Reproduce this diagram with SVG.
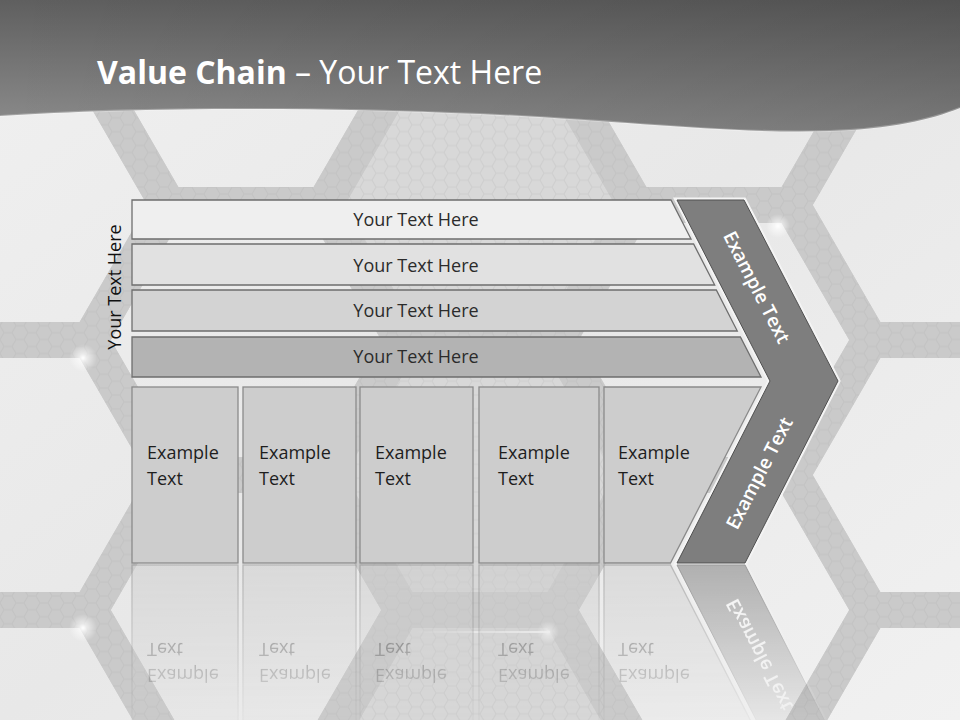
<svg xmlns="http://www.w3.org/2000/svg" width="960" height="720" viewBox="0 0 960 720">
<defs>
<style>
.band{fill:none;stroke:#cacaca;stroke-width:36;stroke-linejoin:miter}
.bandtex{fill:none;stroke:url(#hexpat);stroke-width:36;stroke-linejoin:miter}
.bar{stroke:#6e6e6e;stroke-width:1.3}
.box{fill:#cdcdcd;stroke:#8a8a8a;stroke-width:1.3}
.bt{font-family:"Open Sans","Liberation Sans",sans-serif;font-size:18px;fill:#2b2b2b;text-anchor:middle}
.ex{font-family:"Open Sans","Liberation Sans",sans-serif;font-size:18px;fill:#1e1e1e}
.ct{font-family:"Open Sans","Liberation Sans",sans-serif;font-size:19px;font-weight:600;fill:#ffffff;text-anchor:middle}
</style>
<pattern id="hexpat" patternUnits="userSpaceOnUse" width="24" height="13.86">
<rect width="24" height="13.86" fill="#cacaca"/>
<path d="M0,6.93 L4,0 L12,0 L16,6.93 L12,13.86 L4,13.86 Z M16,6.93 L24,6.93" fill="none" stroke="#c1c1c1" stroke-width="1"/>
</pattern>
<pattern id="hexpat2" patternUnits="userSpaceOnUse" width="24" height="13.86">
<rect width="24" height="13.86" fill="#d8d8d8"/>
<path d="M0,6.93 L4,0 L12,0 L16,6.93 L12,13.86 L4,13.86 Z M16,6.93 L24,6.93" fill="none" stroke="#cecece" stroke-width="1"/>
</pattern>
<linearGradient id="bgGrad" x1="0" y1="0" x2="1" y2="1">
<stop offset="0" stop-color="#f0f0f0"/>
<stop offset="0.5" stop-color="#e8e8e8"/>
<stop offset="1" stop-color="#f1f1f1"/>
</linearGradient>
<linearGradient id="hdrV" x1="0" y1="0" x2="0" y2="135" gradientUnits="userSpaceOnUse">
<stop offset="0" stop-color="#5f5f5f"/>
<stop offset="1" stop-color="#8e8e8e"/>
</linearGradient>
<linearGradient id="hdrH" x1="0" y1="0" x2="960" y2="0" gradientUnits="userSpaceOnUse">
<stop offset="0" stop-color="#000" stop-opacity="0"/>
<stop offset="1" stop-color="#000" stop-opacity="0.14"/>
</linearGradient>
<radialGradient id="spark">
<stop offset="0" stop-color="#fff" stop-opacity="1"/>
<stop offset="0.3" stop-color="#fff" stop-opacity="0.6"/>
<stop offset="1" stop-color="#fff" stop-opacity="0"/>
</radialGradient>
<linearGradient id="glint" x1="415" y1="0" x2="550" y2="0" gradientUnits="userSpaceOnUse">
<stop offset="0" stop-color="#fff" stop-opacity="0"/>
<stop offset="1" stop-color="#fff" stop-opacity="0.9"/>
</linearGradient>
<linearGradient id="fadeGrad" x1="0" y1="564" x2="0" y2="720" gradientUnits="userSpaceOnUse">
<stop offset="0" stop-color="#fff" stop-opacity="0.55"/>
<stop offset="1" stop-color="#fff" stop-opacity="0.08"/>
</linearGradient>
<mask id="fade" maskUnits="userSpaceOnUse" x="0" y="564" width="960" height="156">
<rect x="0" y="564" width="960" height="156" fill="url(#fadeGrad)"/>
</mask>
</defs>

<!-- background -->
<g id="background">
<rect width="960" height="720" fill="url(#bgGrad)"/>
<g fill="url(#hexpat2)">
<polygon points="324,205 402,70 558,70 636,205 558,340 402,340 324,205"/>
<polygon points="324,475 402,340 558,340 636,475 558,610 402,610 324,475"/>
<polygon points="324,745 402,610 558,610 636,745 558,880 402,880"/>
</g>
<g id="honeycomb">
<path class="band" d="M-144,205 L-66,70 L90,70 L168,205 L90,340 L-66,340 Z M-144,475 L-66,340 L90,340 L168,475 L90,610 L-66,610 Z M-144,745 L-66,610 L90,610 L168,745 L90,880 L-66,880 Z M90,70 L168,-65 L324,-65 L402,70 L324,205 L168,205 Z M90,340 L168,205 L324,205 L402,340 L324,475 L168,475 Z M90,610 L168,475 L324,475 L402,610 L324,745 L168,745 Z M324,205 L402,70 L558,70 L636,205 L558,340 L402,340 Z M324,475 L402,340 L558,340 L636,475 L558,610 L402,610 Z M324,745 L402,610 L558,610 L636,745 L558,880 L402,880 Z M558,70 L636,-65 L792,-65 L870,70 L792,205 L636,205 Z M558,340 L636,205 L792,205 L870,340 L792,475 L636,475 Z M558,610 L636,475 L792,475 L870,610 L792,745 L636,745 Z M792,205 L870,70 L1026,70 L1104,205 L1026,340 L870,340 Z M792,475 L870,340 L1026,340 L1104,475 L1026,610 L870,610 Z M792,745 L870,610 L1026,610 L1104,745 L1026,880 L870,880 Z"/>
<path class="bandtex" opacity="0.8" d="M-144,205 L-66,70 L90,70 L168,205 L90,340 L-66,340 Z M-144,475 L-66,340 L90,340 L168,475 L90,610 L-66,610 Z M-144,745 L-66,610 L90,610 L168,745 L90,880 L-66,880 Z M90,70 L168,-65 L324,-65 L402,70 L324,205 L168,205 Z M90,340 L168,205 L324,205 L402,340 L324,475 L168,475 Z M90,610 L168,475 L324,475 L402,610 L324,745 L168,745 Z M324,205 L402,70 L558,70 L636,205 L558,340 L402,340 Z M324,475 L402,340 L558,340 L636,475 L558,610 L402,610 Z M324,745 L402,610 L558,610 L636,745 L558,880 L402,880 Z M558,70 L636,-65 L792,-65 L870,70 L792,205 L636,205 Z M558,340 L636,205 L792,205 L870,340 L792,475 L636,475 Z M558,610 L636,475 L792,475 L870,610 L792,745 L636,745 Z M792,205 L870,70 L1026,70 L1104,205 L1026,340 L870,340 Z M792,475 L870,340 L1026,340 L1104,475 L1026,610 L870,610 Z M792,745 L870,610 L1026,610 L1104,745 L1026,880 L870,880 Z"/>
</g>
<circle cx="83" cy="358" r="14" fill="url(#spark)"/>
<circle cx="83" cy="628" r="14" fill="url(#spark)"/>
<circle cx="778" cy="226" r="12" fill="url(#spark)"/>
<rect x="415" y="631" width="135" height="2" fill="url(#glint)"/>
<circle cx="548" cy="632" r="11" fill="url(#spark)"/>
</g>

<!-- header -->
<g id="header">
<path d="M0,0 H960 V108 C930,120 890,129 830,131 C720,134 620,120 480,114 C300,106 120,108 0,116 Z" fill="url(#hdrV)"/>
<path d="M0,0 H960 V108 C930,120 890,129 830,131 C720,134 620,120 480,114 C300,106 120,108 0,116 Z" fill="url(#hdrH)"/>
<path d="M960,108 C930,120 890,129 830,131 C720,134 620,120 480,114 C300,106 120,108 0,116" fill="none" stroke="#ffffff" stroke-opacity="0.25" stroke-width="2"/>
<text x="97" y="84" font-family="'Open Sans','Liberation Sans',sans-serif" font-size="32" fill="#ffffff"><tspan font-weight="bold">Value Chain</tspan> – Your Text Here</text>
</g>

<g id="connectors"></g>

<!-- side label -->
<g id="side-label">
<text class="bt" transform="translate(121,287) rotate(-90)" style="fill:#111111">Your Text Here</text>
</g>

<!-- bars -->
<g id="bar1">
<polygon class="bar" fill="#efefef" points="132,200 671,200 691,239 132,239"/>
<text class="bt" x="416" y="226">Your Text Here</text>
</g>
<g id="bar2">
<polygon class="bar" fill="#e1e1e1" points="132,244 693.6,244 714.7,285 132,285"/>
<text class="bt" x="416" y="272">Your Text Here</text>
</g>
<g id="bar3">
<polygon class="bar" fill="#d3d3d3" points="132,290 716.3,290 737.3,331 132,331"/>
<text class="bt" x="416" y="317">Your Text Here</text>
</g>
<g id="bar4">
<polygon class="bar" fill="#b3b3b3" points="132,337 740.4,337 761,377 132,377"/>
<text class="bt" x="416" y="363">Your Text Here</text>
</g>

<!-- boxes -->
<g id="boxes">
<g id="box1">
<rect class="box" x="132" y="387" width="106" height="176"/>
<text class="ex" x="147" y="459">Example</text>
<text class="ex" x="147" y="485">Text</text>
</g>
<g id="box2">
<rect class="box" x="243" y="387" width="113" height="176"/>
<text class="ex" x="259" y="459">Example</text>
<text class="ex" x="259" y="485">Text</text>
</g>
<g id="box3">
<rect class="box" x="360" y="387" width="113" height="176"/>
<text class="ex" x="375" y="459">Example</text>
<text class="ex" x="375" y="485">Text</text>
</g>
<g id="box4">
<rect class="box" x="479" y="387" width="120" height="176"/>
<text class="ex" x="498" y="459">Example</text>
<text class="ex" x="498" y="485">Text</text>
</g>
<g id="box5">
<polygon class="box" points="604,387 761,387 670.5,563 604,563"/>
<text class="ex" x="618" y="459">Example</text>
<text class="ex" x="618" y="485">Text</text>
</g>
</g>

<!-- chevron -->
<g id="chevron">
<path d="M677,200 L744,200 L838,381 L745,563 L677,563 L770,381 Z" fill="none" stroke="#f4f4f4" stroke-width="5" stroke-linejoin="miter"/>
<path d="M677,200 L744,200 L838,381 L745,563 L677,563 L770,381 Z" fill="#7e7e7e" stroke="#505050" stroke-width="1"/>
<text class="ct" transform="translate(757,287) rotate(62.8)" y="7">Example Text</text>
<text class="ct" transform="translate(759,473) rotate(-62.8)" y="7">Example Text</text>
</g>

<!-- reflection -->
<g id="reflection" mask="url(#fade)">
<use href="#boxes" transform="matrix(1,0,0,-1,0,1128)"/>
<use href="#chevron" transform="matrix(1,0,0,-1,0,1128)"/>
</g>
</svg>
